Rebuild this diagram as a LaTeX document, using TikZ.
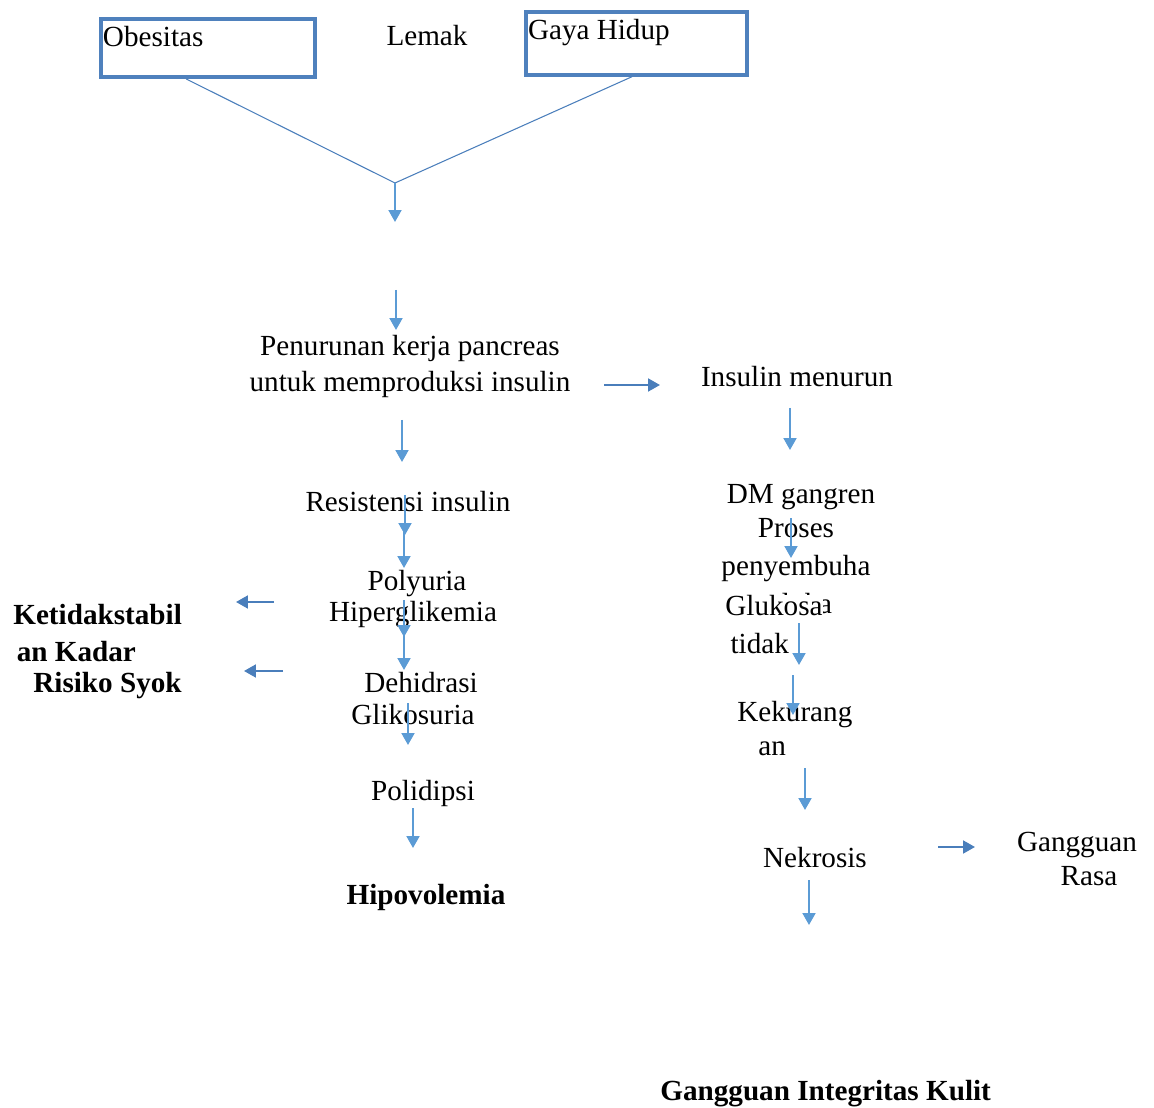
\documentclass[tikz,border=0pt]{standalone}
\usepackage{fontspec}
\setmainfont{Liberation Serif}
\usepackage{tikz}
\usetikzlibrary{arrows.meta, positioning, calc}
\definecolor{boxblue}{RGB}{79,129,189}
\definecolor{arrblue}{RGB}{91,155,213}
\definecolor{sideblue}{RGB}{74,126,187}
\tikzset{
         mybox/.style={draw=boxblue, line width=0.08cm, inner xsep=0.04cm, inner ysep=0pt, align=flush left, text height=15.9pt, anchor=north west, font=\fontsize{16.6}{20.5}\selectfont},
         mytext/.style={inner sep=0pt, align=center, anchor=base, font=\fontsize{16.6}{20.5}\selectfont},
         mybold/.style={mytext, font=\fontsize{16.6}{20.5}\selectfont\bfseries},
         myline/.style={draw=sideblue, line width=0.6pt},
         mydown/.style={draw=arrblue, line width=0.04cm, -{Triangle[width=0.26cm,length=0.24cm]}},
         myside/.style={draw=sideblue, line width=0.04cm, -{Triangle[width=0.26cm,length=0.24cm]}}
      }
\begin{document}
\begin{tikzpicture}[x=0.02cm, y=-0.02cm]
  \useasboundingbox (0,0) rectangle (1154,1108);

  % boxes on top
  \node[mybox, text width=4.2cm, text depth=17.1pt] (obes) at (99,17) {Obesitas};
  \node[mybox, text width=4.34cm, text depth=19.8pt] (gaya) at (524,10) {Gaya Hidup};
  \node[mytext] (lemak) at (427,46) {Lemak};

  % left column (multi-line nodes sit on their last line)
  \node[mytext] (pankreas) at (410,392) {Penurunan kerja pancreas\\untuk memproduksi insulin};
  \node[mytext] (resist) at (408,512) {Resistensi insulin};
  \node[mytext] (polyu) at (417,590) {Polyuria};
  \node[mytext] (hiper) at (413,622) {Hiperglikemia};
  \node[mytext] (dehid) at (421,692) {Dehidrasi};
  \node[mytext] (gliko) at (413,724) {Glikosuria};
  \node[mytext] (polid) at (423,800) {Polidipsi};
  \node[mybold] (hipov) at (426,904) {Hipovolemia};
  \node[mybold, anchor=base west, align=flush left] (ketid) at (13,661) {Ketidakstabil\\\hspace*{2pt}an Kadar};
  \node[mybold, anchor=base west] (syok) at (33,692) {Risiko Syok};

  % right column
  \node[mytext] (insul) at (797,387) {Insulin menurun};
  \node[mytext] (gangren) at (801,503) {DM gangren};
  \node[mytext, font=\fontsize{16.6}{21.6}\selectfont] (proses) at (796,613) {Proses\\penyembuha\\n luka};
  \node[mytext, fill=white, anchor=base west, align=flush left, font=\fontsize{16.6}{21.6}\selectfont] (gluko) at (725,653) {Glukosa\\\hspace*{3pt}tidak};
  \node[mytext, anchor=base west, align=flush left, font=\fontsize{16.6}{18.8}\selectfont] (kurang) at (737,755) {Kekurang\\\hspace*{0.42cm}an};
  \node[mytext] (nekro) at (815,867) {Nekrosis};
  \node[mytext, font=\fontsize{16.6}{19.3}\selectfont] (rasa) at (1077,885) {Gangguan\\\hspace*{0.48cm}Rasa};
  \node[mybold, anchor=base west] (kulit) at (660,1100) {Gangguan Integritas Kulit};

  % lines from the boxes
  \coordinate (join) at (395,183);
  \coordinate (joindn) at (395,222);
  \draw[myline] ($(obes.south west)!0.4!(obes.south east)$) -- (join);
  \draw[myline] ($(gaya.south west)!0.48!(gaya.south east)$) -- (join);
  \draw[mydown] (join) -- (joindn);

  % down arrows
  \foreach \x/\ya/\yb [count=\i] in {396/290/330, 402/420/462, 790/408/450, 405/495/535,
      404/530/568, 404/600/637, 404/633/670, 408/703/745, 413/808/848,
      791/518/558, 799/623/665, 793/675/715, 805/768/810, 809/880/925}
  {
    \coordinate (up\i) at (\x,\ya);
    \coordinate (dn\i) at (\x,\yb);
    \draw[mydown] (up\i) -- (dn\i);
  }

  % side arrows
  \foreach \xa/\xb/\y [count=\i] in {274/236/602, 283/244/671, 604/660/385, 938/975/847}
  {
    \coordinate (from\i) at (\xa,\y);
    \coordinate (to\i) at (\xb,\y);
    \draw[myside] (from\i) -- (to\i);
  }
\end{tikzpicture}
\end{document}
